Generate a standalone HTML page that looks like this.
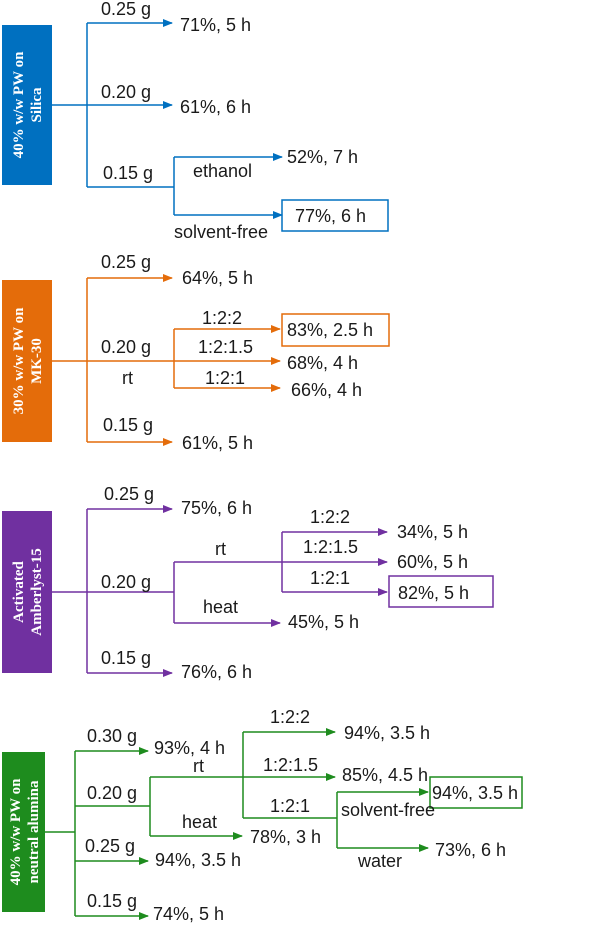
<!DOCTYPE html>
<html><head><meta charset="utf-8"><style>
html,body{margin:0;padding:0;background:#fff;}
svg{display:block;}
text{font-family:"Liberation Sans",sans-serif;font-size:18px;fill:#1a1a1a;dominant-baseline:central;}
.bx{font-family:"Liberation Serif",serif;font-weight:bold;font-size:15px;fill:#fff;text-anchor:middle;}
</style></head><body>
<svg width="605" height="927" viewBox="0 0 605 927" xmlns="http://www.w3.org/2000/svg">
<defs>
<marker id="ab" markerWidth="10" markerHeight="10" refX="9" refY="5" orient="auto" markerUnits="userSpaceOnUse"><path d="M0,1 L10,5 L0,9z" fill="#0070C0"/></marker>
<marker id="ao" markerWidth="10" markerHeight="10" refX="9" refY="5" orient="auto" markerUnits="userSpaceOnUse"><path d="M0,1 L10,5 L0,9z" fill="#E46C0A"/></marker>
<marker id="ap" markerWidth="10" markerHeight="10" refX="9" refY="5" orient="auto" markerUnits="userSpaceOnUse"><path d="M0,1 L10,5 L0,9z" fill="#7030A0"/></marker>
<marker id="ag" markerWidth="10" markerHeight="10" refX="9" refY="5" orient="auto" markerUnits="userSpaceOnUse"><path d="M0,1 L10,5 L0,9z" fill="#1E8C1E"/></marker>
</defs>

<!-- Section 1 blue -->
<g stroke="#0070C0" stroke-width="1.5" fill="none">
<rect x="2" y="25" width="50" height="160" fill="#0070C0" stroke="none"/>
<path d="M52,105 H87 M87,23 V187"/>
<path d="M87,23 H172" marker-end="url(#ab)"/>
<path d="M87,105 H172" marker-end="url(#ab)"/>
<path d="M87,187 H174 M174,157 V215"/>
<path d="M174,157 H282" marker-end="url(#ab)"/>
<path d="M174,215 H282" marker-end="url(#ab)"/>
<rect x="282" y="200" width="106" height="31"/>
</g>
<text class="bx" transform="translate(27,105) rotate(-90)" y="-8">40%  w/w PW on</text>
<text class="bx" transform="translate(27,105) rotate(-90)" y="10">Silica</text>
<text x="101" y="9">0.25 g</text><text x="180" y="25">71%, 5 h</text>
<text x="101" y="92">0.20 g</text><text x="180" y="107">61%, 6 h</text>
<text x="103" y="173">0.15 g</text><text x="193" y="171">ethanol</text>
<text x="287" y="157">52%, 7 h</text>
<text x="174" y="232">solvent-free</text><text x="295" y="216">77%, 6 h</text>

<!-- Section 2 orange -->
<g stroke="#E46C0A" stroke-width="1.5" fill="none">
<rect x="2" y="280" width="50" height="162" fill="#E46C0A" stroke="none"/>
<path d="M87,278 V442"/>
<path d="M52,361 H280" marker-end="url(#ao)"/>
<path d="M87,278 H172" marker-end="url(#ao)"/>
<path d="M87,442 H172" marker-end="url(#ao)"/>
<path d="M174,329 V388"/>
<path d="M174,329 H280" marker-end="url(#ao)"/>
<path d="M174,388 H280" marker-end="url(#ao)"/>
<rect x="282" y="314" width="107" height="32"/>
</g>
<text class="bx" transform="translate(27,361) rotate(-90)" y="-8">30% w/w PW on</text>
<text class="bx" transform="translate(27,361) rotate(-90)" y="10">MK-30</text>
<text x="101" y="262">0.25 g</text><text x="182" y="278">64%, 5 h</text>
<text x="101" y="347">0.20 g</text><text x="122" y="378">rt</text>
<text x="202" y="318">1:2:2</text><text x="198" y="347">1:2:1.5</text><text x="205" y="378">1:2:1</text>
<text x="287" y="330">83%, 2.5 h</text><text x="287" y="363">68%,  4 h</text><text x="291" y="390">66%, 4 h</text>
<text x="103" y="425">0.15 g</text><text x="182" y="443">61%, 5 h</text>

<!-- Section 3 purple -->
<g stroke="#7030A0" stroke-width="1.5" fill="none">
<rect x="2" y="511" width="50" height="162" fill="#7030A0" stroke="none"/>
<path d="M87,509 V673 M52,592 H174 M174,562 V623 M282,532 V592"/>
<path d="M87,509 H172" marker-end="url(#ap)"/>
<path d="M87,673 H172" marker-end="url(#ap)"/>
<path d="M174,562 H387" marker-end="url(#ap)"/>
<path d="M174,623 H280" marker-end="url(#ap)"/>
<path d="M282,532 H387" marker-end="url(#ap)"/>
<path d="M282,592 H387" marker-end="url(#ap)"/>
<rect x="389" y="576" width="104" height="31"/>
</g>
<text class="bx" transform="translate(27,592) rotate(-90)" y="-8">Activated</text>
<text class="bx" transform="translate(27,592) rotate(-90)" y="10">Amberlyst-15</text>
<text x="104" y="494">0.25 g</text><text x="181" y="508">75%, 6 h</text>
<text x="101" y="582">0.20 g</text><text x="215" y="549">rt</text><text x="203" y="607">heat</text>
<text x="288" y="622">45%, 5 h</text>
<text x="310" y="517">1:2:2</text><text x="303" y="547">1:2:1.5</text><text x="310" y="578">1:2:1</text>
<text x="397" y="532">34%, 5 h</text><text x="397" y="562">60%, 5 h</text><text x="398" y="593">82%, 5 h</text>
<text x="101" y="658">0.15 g</text><text x="181" y="672">76%, 6 h</text>

<!-- Section 4 green -->
<g stroke="#1E8C1E" stroke-width="1.5" fill="none">
<rect x="2" y="752" width="43" height="160" fill="#1E8C1E" stroke="none"/>
<path d="M45,832 H75 M75,751 V916 M75,806 H150 M150,777 V836 M243,732 V818 M243,818 H337 M337,792 V848"/>
<path d="M75,751 H148" marker-end="url(#ag)"/>
<path d="M75,861 H148" marker-end="url(#ag)"/>
<path d="M75,916 H148" marker-end="url(#ag)"/>
<path d="M150,777 H335" marker-end="url(#ag)"/>
<path d="M150,836 H242" marker-end="url(#ag)"/>
<path d="M243,732 H335" marker-end="url(#ag)"/>
<path d="M337,792 H428" marker-end="url(#ag)"/>
<path d="M337,848 H428" marker-end="url(#ag)"/>
<rect x="430" y="777" width="92" height="31"/>
</g>
<text class="bx" transform="translate(24,832) rotate(-90)" y="-8">40% w/w PW on</text>
<text class="bx" transform="translate(24,832) rotate(-90)" y="10">neutral alumina</text>
<text x="87" y="736">0.30 g</text><text x="154" y="748">93%, 4 h</text>
<text x="87" y="793">0.20 g</text><text x="193" y="766">rt</text><text x="182" y="822">heat</text>
<text x="250" y="837">78%, 3 h</text>
<text x="85" y="846">0.25 g</text><text x="155" y="860">94%, 3.5 h</text>
<text x="87" y="901">0.15 g</text><text x="153" y="914">74%, 5 h</text>
<text x="270" y="717">1:2:2</text><text x="263" y="765">1:2:1.5</text><text x="270" y="806">1:2:1</text>
<text x="344" y="733">94%, 3.5 h</text><text x="342" y="775">85%, 4.5 h</text>
<text x="341" y="810">solvent-free</text><text x="358" y="861">water</text>
<text x="432" y="793">94%, 3.5 h</text><text x="435" y="850">73%, 6 h</text>
</svg>
</body></html>
